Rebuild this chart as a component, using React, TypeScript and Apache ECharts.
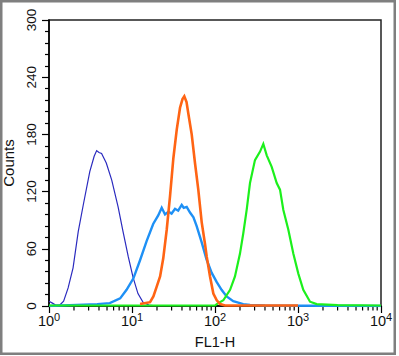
import React, { useEffect, useRef } from 'react';
import * as echarts from 'echarts';

// FL1-H channel values and counts
const darkBlueX = [1, 1.1, 1.2, 1.35, 1.5, 1.7, 1.95, 2.25, 2.6, 3.1, 3.5, 3.75, 4.0, 4.3, 4.9, 5.7, 6.8, 7.8, 9.0, 10.3, 11.8, 13.6, 16, 20];
const darkBlueY = [5, 3, 1, 1, 5, 19, 40, 78, 107, 141, 157, 163, 161, 160, 150, 132, 104, 78, 52, 30, 13, 4, 1, 0];

const lightBlueX = [1, 3.8, 5.4, 7.2, 8.6, 10.4, 12.5, 15, 18, 20.7, 22.8, 25, 27.5, 30, 33, 36, 39.7, 42, 45.6, 50, 55, 60, 69, 79, 91, 105, 120, 138, 166, 219, 264, 400, 10000];
const lightBlueY = [0, 2, 3, 8, 17, 29, 48, 68, 86, 95, 103, 96, 99, 97, 102, 100, 106, 103, 104, 98, 93, 84, 67, 49, 35, 25, 17, 10, 5, 2, 1, 0.5, 0];

const orangeX = [12.5, 16.5, 18.1, 19.8, 21.8, 23.8, 26.2, 28.7, 31.5, 34.6, 37.9, 40.6, 42.7, 45.4, 47.7, 52.4, 57.4, 62.9, 69.1, 75.8, 79.4, 87.1, 95.5, 105, 115, 132, 1000];
const orangeY = [2, 4, 10, 20, 31, 50, 80, 115, 155, 185, 208, 217, 220, 214, 202, 180, 150, 122, 88, 65, 52, 31, 13, 6, 2, 0.5, 0.5];

const greenX = [1, 100, 105, 126, 152, 174, 200, 219, 241, 264, 303, 349, 382, 420, 482, 554, 607, 665, 765, 878, 1009, 1158, 1396, 1679, 3000, 10000];
const greenY = [0.5, 0.5, 2, 6, 17, 31, 55, 76, 101, 129, 153, 162, 170, 158, 146, 129, 122, 101, 80, 55, 34, 17, 4.5, 2, 1, 0.5];

const decadeTicks = [1, 10, 100, 1000, 10000];
const minorTicks = [2, 3, 4, 5, 6, 7, 8, 9, 20, 30, 40, 50, 60, 70, 80, 90, 200, 300, 400, 500, 600, 700, 800, 900, 2000, 3000, 4000, 5000, 6000, 7000, 8000, 9000];

const FONT = 'Liberation Sans, Arial, Helvetica, sans-serif';

export default function App() {
  const ref = useRef<HTMLDivElement>(null);
  useEffect(() => {
    const chart = echarts.init(ref.current!, null, { renderer: 'svg' });
    const pair = (xs: number[], ys: number[]) => xs.map((x, i) => [x, ys[i]]);
    const lineSeries = (name: string, xs: number[], ys: number[], color: string, width: number) => ({
      name,
      type: 'line',
      data: pair(xs, ys),
      showSymbol: false,
      symbol: 'none',
      lineStyle: { color, width, join: 'miter' },
      itemStyle: { color },
      clip: true,
    });
    chart.setOption({
      animation: false,
      backgroundColor: '#fff',
      textStyle: { fontFamily: FONT },
      grid: {
        left: 49, top: 20, right: 18, bottom: 50,
        outerBoundsMode: 'none',
        containLabel: false,
        show: true, borderColor: '#222', borderWidth: 1.5, backgroundColor: 'transparent',
      },
      xAxis: {
        type: 'log', logBase: 10, min: 1, max: 10000,
        name: 'FL1-H', nameLocation: 'middle', nameGap: 28,
        nameTextStyle: { fontSize: 14.5, color: '#111', fontFamily: FONT },
        axisLine: { lineStyle: { color: '#000', width: 1.5 } },
        axisTick: { show: true, length: 7, customValues: decadeTicks, lineStyle: { color: '#000', width: 1.2 } },
        splitLine: { show: false },
        axisLabel: {
          margin: 5,
          customValues: decadeTicks,
          formatter: (v: number) => `{b|10}{e|${Math.round(Math.log10(v))}}`,
          rich: {
            b: { fontSize: 14.5, color: '#111', fontFamily: FONT },
            e: { fontSize: 11, color: '#111', fontFamily: FONT, padding: [0, 0, 9, 0] },
          },
        },
      },
      yAxis: {
        type: 'value', min: 0, max: 300, interval: 60,
        name: 'Counts', nameLocation: 'middle', nameGap: 26,
        nameTextStyle: { fontSize: 15, color: '#111', fontFamily: FONT },
        axisLine: { show: true, lineStyle: { color: '#000', width: 1.5 } },
        axisTick: { show: true, length: 7, lineStyle: { color: '#000', width: 1.2 } },
        minorTick: { show: true, splitNumber: 5, length: 4, lineStyle: { color: '#000', width: 1.2 } },
        splitLine: { show: false },
        axisLabel: { rotate: 90, margin: 11, fontSize: 13.5, color: '#111', fontFamily: FONT },
      },
      graphic: [
        {
          type: 'rect',
          shape: { x: 1.25, y: 1.25, width: 393.5, height: 352.5 },
          style: { fill: 'none', stroke: '#7f7f7f', lineWidth: 2.5 },
          silent: true,
          z: 100,
        },
      ],
      series: [
        {
          name: 'minor ticks',
          type: 'custom',
          clip: false,
          silent: true,
          z: 1,
          data: minorTicks.map((v) => [v, 0]),
          renderItem: (_params: any, api: any) => {
            const p = api.coord([api.value(0), 0]);
            return {
              type: 'line',
              shape: { x1: p[0], y1: p[1], x2: p[0], y2: p[1] + 4.5 },
              style: { stroke: '#000', lineWidth: 1.2 },
            };
          },
        },
        lineSeries('control', darkBlueX, darkBlueY, '#2b2bbf', 1.2),
        lineSeries('sample A', lightBlueX, lightBlueY, '#1e90f5', 2.4),
        lineSeries('sample C', greenX, greenY, '#1cf01c', 2.2),
        lineSeries('sample B', orangeX, orangeY, '#ff6414', 2.6),
      ],
    });
    return () => chart.dispose();
  }, []);
  return (
    <div
      ref={ref}
      style={{ position: 'absolute', left: 0, top: 0, width: 399, height: 356, background: '#fff' }}
    />
  );
}
